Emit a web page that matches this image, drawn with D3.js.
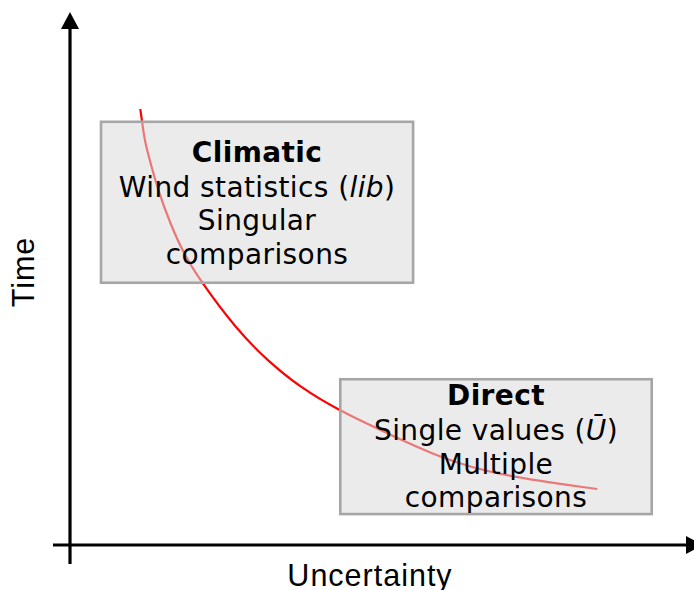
<!DOCTYPE html>
<html>
<head>
<meta charset="utf-8">
<script src="https://cdnjs.cloudflare.com/ajax/libs/d3/7.8.5/d3.min.js"></script>
<style>
  body { margin: 0; background: #fff; }
  svg { display: block; }
</style>
</head>
<body>
<div id="chart"></div>
<script>
// trade-off curve (uncertainty 0-100, time 0-100)
var uncertainty = [11.1, 11.4, 11.8, 12.6, 13.9, 15.8, 17.9, 20.5, 26.4, 31.1, 36.3, 42.7, 49.0, 58.5, 67.5, 83.3];
var time        = [81.8, 79.4, 75.8, 72.2, 66.6, 60.4, 54.8, 49.7, 40.3, 34.7, 29.6, 25.1, 21.6, 16.3, 13.1, 10.5];

// the two regions: extents in the same units
var regionNames = ["Climatic", "Direct"];
var regionX = [[4.9, 54.2], [42.7, 91.9]];
var regionY = [[49.2, 79.4], [5.8, 31.1]];
var regionLines = [
  ["Wind statistics (", "Singular", "comparisons"],
  ["Single values (", "Multiple", "comparisons"]
];
var regionSymbol = ["lib", "U\u0304"];

var xLabel = "Uncertainty";
var yLabel = "Time";

var width = 694, height = 590;

var svg = d3.select("#chart").append("svg")
    .attr("width", width)
    .attr("height", height);

var x = d3.scaleLinear().domain([0, 100]).range([70, 703]),
    y = d3.scaleLinear().domain([0, 100]).range([545, 12]);

// curve goes first, boxes are semi transparent over it
var pts = uncertainty.map(function(u, i) { return {u: u, t: time[i]}; });

var line = d3.line()
    .curve(d3.curveBasis)
    .x(function(d) { return x(d.u); })
    .y(function(d) { return y(d.t); });

svg.append("path")
    .datum(pts)
    .attr("d", line)
    .attr("fill", "none")
    .attr("stroke", "#ff0000")
    .attr("stroke-width", 2.2);

// boxes
var boxes = svg.selectAll(".box")
    .data(regionNames)
    .enter()
    .append("g")
    .attr("class", "box");

boxes.append("rect")
    .attr("x", function(d, i) { return x(regionX[i][0]); })
    .attr("y", function(d, i) { return y(regionY[i][1]); })
    .attr("width", function(d, i) { return x(regionX[i][1]) - x(regionX[i][0]); })
    .attr("height", function(d, i) { return y(regionY[i][0]) - y(regionY[i][1]); })
    .attr("fill", "rgb(218,218,218)")
    .attr("fill-opacity", 0.55)
    .attr("stroke", "#a6a6a6")
    .attr("stroke-width", 2.6);

var txt = boxes.append("text")
    .attr("text-anchor", "middle")
    .attr("font-family", "'DejaVu Sans', Verdana, sans-serif")
    .attr("font-size", 28)
    .attr("letter-spacing", 0.4)
    .attr("fill", "#000")
    .attr("x", function(d, i) { return (x(regionX[i][0]) + x(regionX[i][1])) / 2; })
    .attr("y", function(d, i) { return y(regionY[i][1]) + (i == 0 ? 40 : 26); });

txt.each(function(d, i) {
  var t = d3.select(this);
  var cx = (x(regionX[i][0]) + x(regionX[i][1])) / 2;
  t.append("tspan").attr("font-weight", "bold").text(d);
  var l1 = t.append("tspan").attr("x", cx).attr("dy", 35);
  l1.append("tspan").text(regionLines[i][0]);
  l1.append("tspan").attr("font-style", "italic").text(regionSymbol[i]);
  l1.append("tspan").text(")");
  t.append("tspan").attr("x", cx).attr("dy", 33.5).text(regionLines[i][1]);
  t.append("tspan").attr("x", cx).attr("dy", 33.5).text(regionLines[i][2]);
});

// axes with arrow heads
var x0 = x.range()[0], x1 = x.range()[1];
var y0 = y.range()[0], y1 = y.range()[1];
var head = 17, half = 9;

svg.append("line")
    .attr("x1", x0 - 17).attr("y1", y0)
    .attr("x2", x1 - head + 2).attr("y2", y0)
    .attr("stroke", "#000").attr("stroke-width", 3.2);

svg.append("line")
    .attr("x1", x0).attr("y1", y0 + 19)
    .attr("x2", x0).attr("y2", y1 + head - 2)
    .attr("stroke", "#000").attr("stroke-width", 3.2);

svg.append("path")
    .attr("d", "M" + x1 + "," + y0 + "L" + (x1 - head) + "," + (y0 - half) + "L" + (x1 - head) + "," + (y0 + half) + "Z")
    .attr("fill", "#000");

svg.append("path")
    .attr("d", "M" + x0 + "," + y1 + "L" + (x0 - half) + "," + (y1 + head) + "L" + (x0 + half) + "," + (y1 + head) + "Z")
    .attr("fill", "#000");

// axis titles
svg.append("text")
    .attr("x", 370)
    .attr("y", 586)
    .attr("text-anchor", "middle")
    .attr("font-family", "'Liberation Sans', Arial, sans-serif")
    .attr("font-size", 30.5)
    .attr("letter-spacing", 1)
    .attr("fill", "#000")
    .text(xLabel);

svg.append("text")
    .attr("transform", "translate(34,272) rotate(-90)")
    .attr("text-anchor", "middle")
    .attr("font-family", "'Liberation Sans', Arial, sans-serif")
    .attr("font-size", 30.5)
    .attr("letter-spacing", 1)
    .attr("fill", "#000")
    .text(yLabel);
</script>
</body>
</html>
